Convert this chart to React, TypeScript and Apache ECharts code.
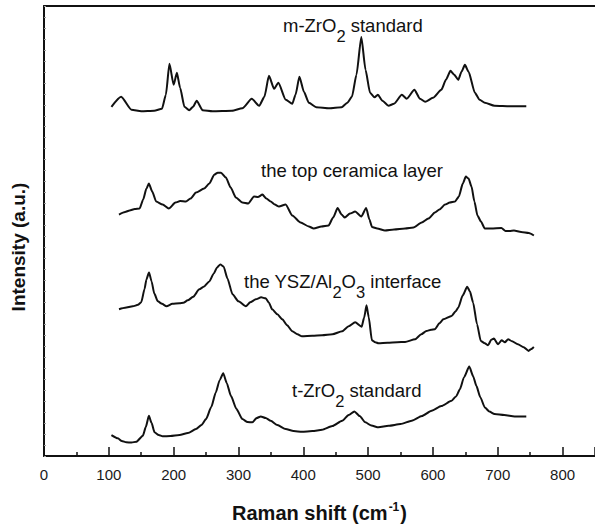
import React, { useEffect, useRef } from "react";
import * as echarts from "echarts";

// Raman shift (cm-1) and stacked intensity (a.u., offset per spectrum)
const mZrO2Shift = [104,119,135,150,170,182,188,193.5,200,205,210,216.6,224,230,235.5,244.7,260,290,306,320.5,332,340,347,355,361.5,373,383,388,394,401,408.6,420,440,459,468,475,482,489.5,496,503,510,515,522,531.5,540,552,559.6,571.4,580,588,600,613,620,627,633,639,644,649.3,655,664.7,672,680,695,720,744];
const mZrO2Int = [350,360,347,345.5,346,348,362,393,372,384,369,350,346.5,350,356,346.5,345.5,346,348.5,358,351,360,381,368,374,357,353,362,380,365,354,349.5,348.5,349.5,354,360,382,420,387,364,359.5,362,356,351,353,362,358,367,358,355,359,367,377,386,382,377,385,392,385,364,357,354,351,350.5,350.5];

const topLayerShift = [115.7,125,132,140,147.5,153,158,161.8,167,173,183,192.5,202.8,210,219,226,234.5,247,255,262.7,268,273,280.6,288,296,306,315,324,330,337,343,349.7,356,362.5,372.8,383,395.8,408.6,416,428,439,446,453,459,464,472,480,489.5,497,502,506,514,526,540,557,570,582.7,593,603,610,618.6,626,634,640,646,650.8,655,659.5,664,668.7,674,680,690,705.6,712,718.4,725,736,748,755.7];
const topLayerInt = [242,244.5,246,247.5,248,257,268,273,265,255,252,248,254,255.5,255,258,264,268,273,282,284,284,279,269,259,254,253,260,259.5,262,258,255,252,250,252,241,234,230,228,230,231,239,248.5,242,239,243,245,240,248.5,237,229.5,228,226,227,228,229,234,238,244,247,252,254,255,260,273,280,278,270,255,241,235,228,228,228.5,225.5,225.5,226,224.5,223.5,221];

const interfaceShift = [115.7,125,137,145,150,155,158,162,166,170,175.6,182,189,198,209,215,221.7,230,239.6,247,255,262,267,272,277,283,290.8,300,311.4,318,326.7,335,342,347,352,360,367.6,375,383,391,398,414,429,445,460,470,480,490,494,497.5,501,505.8,511,516,530,545,557,572.5,582,590,597,603,610,616,628.7,635,639,646,652.8,657,662,668,673.8,680,685,690,694,700.5,706,711,716,722,731,740,747.6,751,755.7];
const interfaceInt = [147,148.5,150,151.5,154,167,177,184,175,163,155,152.5,150,152.5,153,153.5,156,159.5,167,170,175,183,189,192,190,178,162,155,150,154,157,159,158,153.5,147,142,137,131,125,122,120,120.5,121,122,125,130,134,129.5,139,151,139,116,114,113,113.5,114,114.3,117,122,125.3,126.5,127,133,137,140.3,145,148.7,161,169.7,165,153.7,132,115.3,113,111,116.5,117.7,112,116,114,117,115,112,109,105.3,107,109.3];

const tZrO2Shift = [104,114,120,127,135,142.4,152.5,157,161.8,166,170.5,177,183,195,209,222,234.5,243,250,258,265,271,276.5,282,288.3,297,306,314,321.5,328,334.4,342,349.7,360,372.8,385,398,414,429,445,460,470,478.8,487,495.7,505,516,531.5,550,567.3,583,598,613,628.7,636,641.6,648,656,662,667,673,680,687,695,710,726,744];
const tZrO2Int = [21,17.7,15,13.7,13.5,14.3,20.3,29,40.3,33,23.7,21,19.7,20,21,23,27,31,37,49,63.7,76,83,73,60.3,47,37,34,33.7,38,39.7,38,35.3,31,27,25,24.3,25,26.3,30,35.3,41,44.7,40,33.7,30.5,28.7,30.3,32,35.3,40,45.3,50,55.3,60,67,79,89.7,80,70.3,59,48.7,44.5,42,41,39.7,39.7];

const xTicks = [0, 100, 200, 300, 400, 500, 600, 700, 800];

const zip = (xs: number[], ys: number[]) => xs.map((x, i) => [x, ys[i]]);

export default function App() {
  const ref = useRef<HTMLDivElement>(null);
  useEffect(() => {
    if (!ref.current) return;
    const chart = echarts.init(ref.current, null, { renderer: "svg" });
    const font = "Arial, 'Liberation Sans', sans-serif";
    const lineStyle = { color: "#111", width: 2 };
    const mkSeries = (name: string, xs: number[], ys: number[]) => ({
      name,
      type: "line",
      data: zip(xs, ys),
      showSymbol: false,
      symbol: "none",
      lineStyle,
      smooth: 0.2,
      smoothMonotone: "x",
    });
    const sub = { fontSize: 16.5, fontFamily: font, fill: "#111", padding: [21, 0, 0, 0] };
    const labelStyle = (text: string) => ({
      text,
      fontSize: 18.5,
      fontFamily: font,
      fill: "#111",
      verticalAlign: "middle",
      rich: { s: sub },
    });
    chart.setOption({
      animation: false,
      grid: { left: 44, right: -3, top: 6, bottom: 72 },
      xAxis: [
        {
          type: "value",
          min: 0,
          max: 850,
          interval: 100,
          position: "bottom",
          axisLine: { show: true, lineStyle: { color: "#111", width: 2 } },
          axisTick: { show: true, inside: true, length: 9, lineStyle: { color: "#111", width: 1.5 } },
          minorTick: { show: true, splitNumber: 2, length: 4, lineStyle: { color: "#111", width: 1.5 } },
          axisLabel: {
            color: "#1a1a1a",
            fontSize: 15,
            fontFamily: font,
            margin: 11,
            customValues: xTicks,
            formatter: (v: number) => (xTicks.includes(v) ? String(v) : ""),
          },
          splitLine: { show: false },
          name: "Raman shift (cm{sup|-1})",
          nameLocation: "middle",
          nameGap: 45,
          nameTextStyle: {
            fontSize: 20,
            fontWeight: "bold",
            fontFamily: font,
            color: "#111",
            rich: {
              sup: { fontSize: 12, fontWeight: "bold", fontFamily: font, color: "#111", padding: [0, 1, 11, 1] },
            },
          },
        },
        {
          type: "value",
          min: 0,
          max: 850,
          position: "top",
          axisLine: { show: true, lineStyle: { color: "#111", width: 2 } },
          axisTick: { show: false },
          axisLabel: { show: false },
          splitLine: { show: false },
        },
      ],
      yAxis: {
        type: "value",
        min: 0,
        max: 451,
        interval: 11,
        axisLine: { show: true, lineStyle: { color: "#111", width: 2 } },
        axisTick: { show: true, inside: true, length: 2, lineStyle: { color: "#999", width: 1 } },
        axisLabel: { show: false },
        splitLine: { show: false },
      },
      series: [
        mkSeries("m-ZrO2 standard", mZrO2Shift, mZrO2Int),
        mkSeries("the top ceramica layer", topLayerShift, topLayerInt),
        mkSeries("the YSZ/Al2O3 interface", interfaceShift, interfaceInt),
        mkSeries("t-ZrO2 standard", tZrO2Shift, tZrO2Int),
      ],
      graphic: [
        {
          type: "text",
          x: 18,
          y: 247,
          rotation: Math.PI / 2,
          style: {
            text: "Intensity (a.u.)",
            fontSize: 19,
            fontWeight: "bold",
            fontFamily: font,
            fill: "#111",
            align: "center",
            verticalAlign: "middle",
          },
        },
        { type: "text", x: 283, y: 25.5, style: labelStyle("m-ZrO{s|2} standard") },
        { type: "text", x: 261, y: 170.5, style: labelStyle("the top ceramica layer") },
        { type: "text", x: 244, y: 281.5, style: labelStyle("the YSZ/Al{s|2}O{s|3} interface") },
        { type: "text", x: 292, y: 390.5, style: labelStyle("t-ZrO{s|2} standard") },
      ],
    });
    return () => chart.dispose();
  }, []);
  return (
    <div
      ref={ref}
      style={{ position: "fixed", left: 0, top: 0, width: 595, height: 528, background: "#fff" }}
    />
  );
}
